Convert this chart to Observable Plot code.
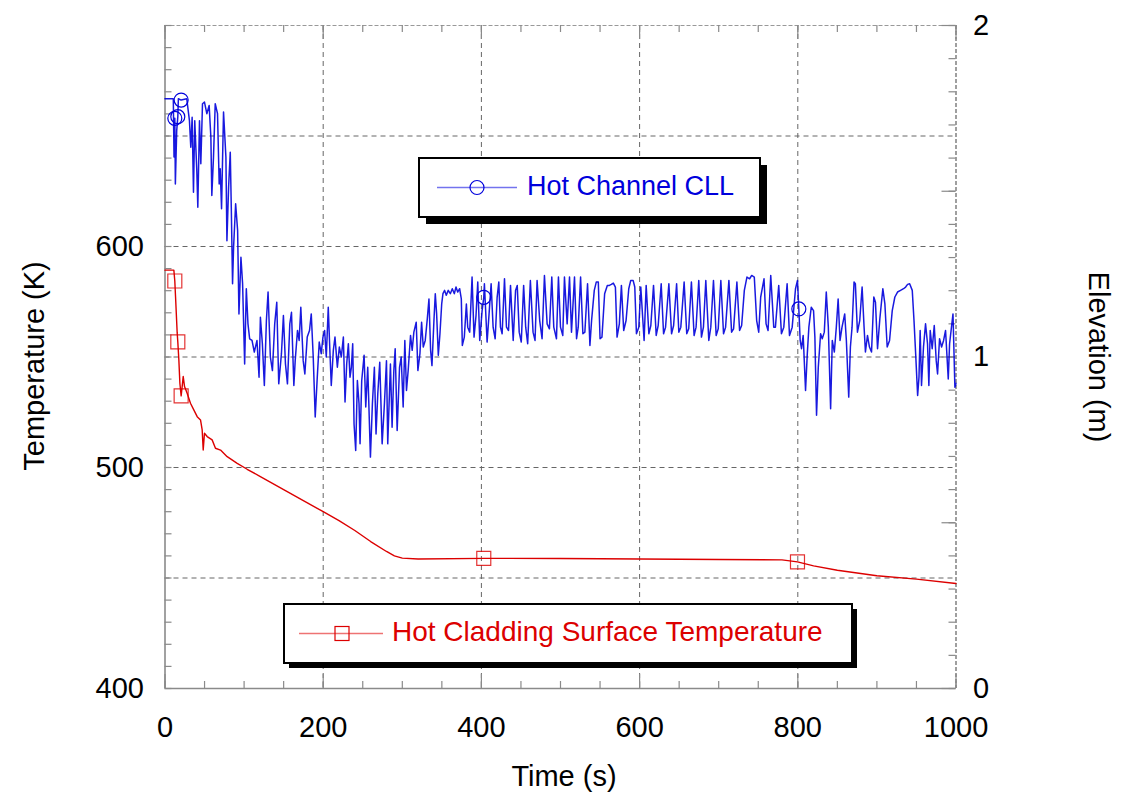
<!DOCTYPE html>
<html><head><meta charset="utf-8">
<script src="https://cdn.jsdelivr.net/npm/d3@7"></script>
<script src="https://cdn.jsdelivr.net/npm/@observablehq/plot@0.6"></script>
<style>html,body{margin:0;padding:0;background:#fff;} svg{display:block}</style>
</head><body><div id="chart"></div>
<script>
// Hot Channel CLL (collapsed liquid level), elevation in m, right axis
const cllTime = [0,10.5,11.4,12.4,13.1,14.8,16.2,16.9,20.4,27.5,30.9,32.6,34.3,36.0,37.6,40.2,41.5,43.6,45.3,47.4,49.9,52.9,55.8,58.0,59.2,61.3,63.5,66.4,68.5,69.8,71.5,74.0,77.0,78.3,80.4,82.5,83.8,85.4,86.7,89.3,91.8,93.5,96.0,98.1,100.7,102.8,104.9,107.0,110.0,112.9,116.3,118.9,120.6,123.1,125.6,128.2,130.3,133.2,135.8,138.7,141.3,143.8,147.2,149.7,152.3,154.8,157.8,159.9,162.9,164.6,167.5,169.6,171.7,174.7,176.8,179.8,182.7,184.9,187.4,189.9,192.5,195.0,197.5,199.7,201.8,203.9,206.4,208.1,210.2,212.8,214.9,217.9,220.4,222.9,225.5,227.6,229.7,231.8,233.9,235.6,237.3,239.0,241.1,243.2,245.3,246.6,248.7,251.7,253.8,256.3,259.7,262.2,264.7,266.8,269.0,271.5,274.5,277.4,280.0,281.6,285.0,287.1,289.3,291.0,293.5,296.5,298.6,301.1,303.2,305.3,307.4,310.4,312.5,314.6,317.6,319.7,322.3,324.4,326.5,329.0,331.6,333.7,335.8,337.5,340.0,341.7,343.4,345.5,347.6,349.8,351.4,353.5,355.6,358.1,360.7,363.2,365.8,367.9,370.0,372.5,374.6,375.9,378.4,381.0,382.7,385.2,388.2,390.7,393.2,395.4,397.9,400.9,403,403.8,407.2,409.7,412.3,414.8,417.4,419.9,422.0,424.1,426.2,429.2,431.7,434.3,436.8,440.2,443.2,445.3,447.8,450.4,453.4,456.0,458.5,461.9,465.3,467.8,470.4,473.7,476.7,479.7,483.1,486.0,489.0,491.5,494.9,497.4,500.0,502.9,505.0,508.4,511.4,513.9,517.7,520.3,522.4,525.4,528.3,530.8,534.2,537.2,539.3,542.7,545.2,547.8,550.0,552.4,555.8,559.2,561.8,564.3,566.8,569.4,571.5,574.4,577.0,579.9,582.9,586.3,588.8,591.8,593.9,596.0,599.0,601.5,605.7,608.3,611.7,614.2,617.6,621.0,623.5,627.3,630.3,632.8,637.0,640.4,643.0,646.8,649.6,652.1,656.3,659.6,662.1,665.5,668.9,671.4,674.8,678.2,680.7,683.7,687.5,690.0,693.4,696.8,699.4,702.7,706.1,708.7,712.9,716.3,718.8,723.0,726.4,729.0,732.4,735.7,739.1,741.7,745.0,748.0,750.6,753.1,757.3,759.9,762.4,765.8,769.6,771.7,775.9,779.3,782.3,786.5,789.5,792.9,797.1,799.6,801.3,803.0,804.7,806.8,809.8,811.9,814.0,817.0,819.9,821.6,823.7,825.9,828.8,830.9,833.5,836.0,838.6,841.5,843.6,846.2,848.7,851.0,853.4,855.9,859.3,861.4,864.4,866.5,868.6,871.1,872.8,875.4,878.3,881.3,883.8,885.5,888.1,890.6,893.2,896.1,898.2,900.8,903.7,907.5,910.1,913.0,916.0,919.4,922.7,926.1,929.9,933.7,936.3,938.8,941.4,944.7,946.9,949.0,951.5,953.2,954.7,956.4,958.9,961.5,964.0,965.7,967.4,969.9,972.5,975.0,976.7,979.2,981.8,984.3,986.8,990.2,991.9,994.5,996.2,998.6,1000];
const cllElev = [1.779,1.779,1.603,1.72,1.522,1.683,1.725,1.779,1.775,1.779,1.713,1.633,1.723,1.497,1.713,1.563,1.452,1.713,1.583,1.764,1.769,1.734,1.759,1.663,1.487,1.603,1.764,1.734,1.522,1.568,1.447,1.739,1.603,1.351,1.512,1.618,1.452,1.221,1.331,1.462,1.382,1.130,1.301,1.221,0.979,1.206,1.100,1.055,1.050,1.015,1.050,0.939,1.120,1.040,0.914,1.110,1.196,1.000,0.959,1.100,1.165,0.919,1.010,1.125,0.979,0.919,1.100,1.135,0.914,0.989,1.080,1.050,1.150,0.989,0.949,1.060,1.080,1.130,1.000,0.819,0.939,1.045,1.010,1.060,1.080,1.000,1.150,1.040,0.914,1.020,1.060,0.969,1.030,1.000,1.060,0.864,0.979,1.040,0.939,0.969,1.040,0.798,0.718,0.929,0.859,0.738,0.929,1.005,0.849,0.969,0.698,0.859,0.969,0.768,0.889,0.984,0.738,0.859,0.989,0.738,0.979,0.788,0.959,1.025,0.778,0.969,1.000,0.849,1.050,0.899,0.959,1.065,1.020,1.075,1.105,0.959,1.010,1.105,1.030,1.050,1.115,1.175,1.020,0.974,1.110,1.191,1.130,1.005,1.070,1.160,1.191,1.201,1.186,1.201,1.191,1.206,1.191,1.211,1.196,1.206,1.175,1.035,1.060,1.160,1.090,1.075,1.241,1.060,1.125,1.226,1.050,1.140,1.180,1.221,1.045,1.130,1.221,1.090,1.055,1.180,1.226,1.090,1.070,1.236,1.090,1.080,1.216,1.050,1.201,1.216,1.075,1.045,1.216,1.090,1.040,1.231,1.075,1.050,1.231,1.110,1.055,1.246,1.100,1.085,1.241,1.090,1.055,1.241,1.090,1.065,1.241,1.100,1.241,1.075,1.241,1.055,1.090,1.241,1.070,1.075,1.221,1.035,1.110,1.201,1.226,1.226,1.055,1.060,1.191,1.216,1.216,1.219,1.223,1.211,1.060,1.100,1.216,1.080,1.110,1.206,1.231,1.231,1.211,1.070,1.090,1.211,1.050,1.216,1.070,1.095,1.216,1.065,1.095,1.221,1.070,1.090,1.221,1.070,1.095,1.221,1.075,1.090,1.226,1.070,1.085,1.226,1.065,1.090,1.231,1.060,1.090,1.231,1.050,1.090,1.231,1.065,1.085,1.231,1.070,1.090,1.231,1.075,1.085,1.226,1.080,1.095,1.201,1.241,1.236,1.246,1.241,1.110,1.075,1.181,1.236,1.100,1.080,1.246,1.090,1.090,1.216,1.070,1.090,1.221,1.065,1.090,1.206,1.231,1.145,1.050,1.025,1.065,0.899,1.005,1.090,1.150,1.140,1.060,0.824,0.969,1.070,1.055,1.075,1.196,1.090,0.844,1.050,1.015,1.090,1.175,1.050,1.090,1.130,1.050,0.879,1.030,1.090,1.226,1.221,1.075,1.110,1.211,1.090,1.015,1.065,1.030,1.015,1.181,1.165,1.025,1.115,1.206,1.160,1.030,1.050,1.140,1.181,1.196,1.201,1.206,1.211,1.219,1.221,1.201,1.110,1.010,0.884,0.939,1.080,0.914,1.030,1.100,1.040,0.914,1.080,1.025,1.095,0.989,0.949,1.055,1.030,1.050,1.080,0.934,1.040,1.095,1.130,0.909,0.92];
// Hot cladding surface temperature, K, left axis
const cladTime = [0,11.2,12.4,13.3,15.4,16.2,17.5,18.8,20.4,21.7,23.0,24.7,28.0,32.2,36.4,40.7,44.9,47.0,48.3,49.9,53.3,59.6,63.8,70.2,78.6,91.3,103.9,120,150,180,200,220,240,260,280,290,300,320,403,500,600,700,780,799.6,820,850,900,950,1000];
const cladTemp = [589.3,589.3,584.4,577.5,560.9,556.8,548.8,538.2,532.4,536.6,541.2,536.6,533.6,529.1,526.1,523.0,521.5,517.0,507.9,515.5,514.0,512.5,508.7,507.9,504.9,501.9,499.2,496,490,484,480,476,471.5,466.5,462,460,459,458.6,458.9,458.8,458.6,458.4,458.2,457.3,455.5,453.5,451,449.5,447.5];
const cllMarkerTimes = [12.4, 16.2, 20.4, 403, 801.3];
const cladMarkerTimes = [12.4, 16.2, 20.4, 403, 799.6];

const timeTickLabels = [0, 200, 400, 600, 800, 1000];
const timeMinorTicks = [0,50,100,150,200,250,300,350,400,450,500,550,600,650,700,750,800,850,900,950,1000];
const tempTickLabels = [400, 500, 600];
const tempMinorTicks = d3.range(400, 700.1, 10);
const elevTickLabels = [0, 1, 2];
const elevMinorTicks = d3.range(0, 2.001, 0.1);
const elevMajorTicks = [0, 0.5, 1, 1.5, 2];
const gridTimes = [200, 400, 600, 800];
const gridTemps = [450, 500, 550, 600, 650];

const seriesNames = ["Hot Channel CLL", "Hot Cladding Surface Temperature"];
const axisTitles = {x: "Time (s)", yLeft: "Temperature (K)", yRight: "Elevation (m)"};

const BLUE = "#0000dc", RED = "#dc0000";
const W = 1122, H = 803;
const mL = 164.5, mR = 166.5, mT = 25, mB = 115;
const pw = W - mL - mR, ph = H - mT - mB;
const elevToTemp = e => 400 + 150 * e;   // right axis [0,2] m ↔ left axis [400,700] K
const FS = 29;

const cll = cllTime.map((t, i) => ({t, T: elevToTemp(cllElev[i])}));
const clad = cladTime.map((t, i) => ({t, T: cladTemp[i]}));
const cllMarks = cll.filter(d => cllMarkerTimes.includes(d.t));
const cladMarks = clad.filter(d => cladMarkerTimes.includes(d.t));

const gray = "#8a8a8a";
const chart = Plot.plot({
  width: W, height: H,
  marginLeft: mL, marginRight: mR, marginTop: mT, marginBottom: mB,
  style: {fontFamily: "'Liberation Sans', Arial, Helvetica, sans-serif", fontSize: FS + "px", background: "#fff", color: "#000"},
  x: {domain: [0, 1000]},
  y: {domain: [400, 700]},
  marks: [
    Plot.ruleX(gridTimes, {x: d => d, stroke: "#666", strokeWidth: 1, strokeDasharray: "5,4"}),
    Plot.ruleY(gridTemps, {y: d => d, stroke: "#666", strokeWidth: 1, strokeDasharray: "5,4"}),
    Plot.ruleY([700], {y: d => d, stroke: "#999", strokeWidth: 1.2, strokeDasharray: "4,2"}),
    Plot.ruleX([1000], {x: d => d, stroke: "#888", strokeWidth: 1.6, strokeDasharray: "4,2"}),
    Plot.ruleX([0], {x: d => d, stroke: gray, strokeWidth: 1.6}),
    Plot.ruleY([400], {y: d => d, stroke: gray, strokeWidth: 1.6}),
    // inward ticks
    Plot.tickX(timeMinorTicks, {x: d => d, insetTop: ph - 7, stroke: gray, strokeWidth: 1.2}),
    Plot.tickX(timeTickLabels, {x: d => d, insetTop: ph - 14, stroke: gray, strokeWidth: 1.2}),
    Plot.tickX(timeMinorTicks, {x: d => d, insetBottom: ph - 7, stroke: gray, strokeWidth: 1.2}),
    Plot.tickX(timeTickLabels, {x: d => d, insetBottom: ph - 14, stroke: gray, strokeWidth: 1.2}),
    Plot.tickY(tempMinorTicks, {y: d => d, insetRight: pw - 7, stroke: gray, strokeWidth: 1.2}),
    Plot.tickY(elevMinorTicks.map(elevToTemp), {y: d => d, insetLeft: pw - 7, stroke: gray, strokeWidth: 1.2}),
    Plot.tickY(elevMajorTicks.map(elevToTemp), {y: d => d, insetLeft: pw - 14, stroke: gray, strokeWidth: 1.2}),
    // tick labels
    Plot.axisX({ticks: timeTickLabels, tickFormat: d => String(d), tickSize: 0, tickPadding: 28, label: null, fontSize: FS}),
    Plot.axisY({ticks: tempTickLabels, tickFormat: d => String(d), tickSize: 0, tickPadding: 21, label: null, anchor: "left", fontSize: FS}),
    Plot.axisY({ticks: elevTickLabels.map(elevToTemp), tickFormat: v => String(Math.round((v - 400) / 150)), tickSize: 0, tickPadding: 17, label: null, anchor: "right", fontSize: FS}),
    // series
    Plot.line(clad, {x: "t", y: "T", stroke: RED, strokeWidth: 1.4}),
    Plot.line(cll, {x: "t", y: "T", stroke: BLUE, strokeWidth: 1.5, strokeOpacity: 0.9}),
    Plot.dot(cladMarks, {x: "t", y: "T", symbol: "square", r: 7.9, stroke: RED, strokeWidth: 1.2, fill: "none", strokeOpacity: 0.8}),
    Plot.dot(cllMarks, {x: "t", y: "T", symbol: "circle", r: 7, stroke: BLUE, strokeWidth: 1.2, fill: "none"})
  ]
});
document.getElementById("chart").appendChild(chart);

// axis titles and legends
const svg = d3.select(chart);
const ff = "'Liberation Sans', Arial, Helvetica, sans-serif";
svg.append("text").text(axisTitles.x).attr("x", mL + pw / 2 + 4).attr("y", 778)
  .attr("text-anchor", "middle").attr("dominant-baseline", "middle").attr("font-family", ff).attr("font-size", FS).attr("fill", "#000");
svg.append("text").text(axisTitles.yLeft).attr("transform", "translate(36,366) rotate(-90)")
  .attr("text-anchor", "middle").attr("dominant-baseline", "middle").attr("font-family", ff).attr("font-size", FS).attr("fill", "#000");
svg.append("text").text(axisTitles.yRight).attr("transform", "translate(1097,357) rotate(90)")
  .attr("text-anchor", "middle").attr("dominant-baseline", "middle").attr("font-family", ff).attr("font-size", FS).attr("fill", "#000");

function legend(x0, y0, w, h, sh, name, color, light, symbol, lineX1, lineX2, symX, textX, fs) {
  const g = svg.append("g");
  g.append("rect").attr("x", x0 + sh).attr("y", y0 + sh).attr("width", w).attr("height", h).attr("fill", "#000");
  g.append("rect").attr("x", x0).attr("y", y0).attr("width", w).attr("height", h).attr("fill", "#fff").attr("stroke", "#000").attr("stroke-width", 2);
  const cy = y0 + h / 2;
  g.append("line").attr("x1", lineX1).attr("x2", lineX2).attr("y1", cy).attr("y2", cy).attr("stroke", light).attr("stroke-width", 1.5);
  if (symbol === "circle") {
    g.append("circle").attr("cx", symX).attr("cy", cy).attr("r", 7).attr("fill", "none").attr("stroke", color).attr("stroke-width", 1.2);
  } else {
    g.append("rect").attr("x", symX - 7).attr("y", cy - 7).attr("width", 14).attr("height", 14).attr("fill", "none").attr("stroke", color).attr("stroke-width", 1.2);
  }
  g.append("text").text(name).attr("x", textX).attr("y", cy).attr("text-anchor", "start").attr("dominant-baseline", "middle")
    .attr("font-family", ff).attr("font-size", fs).attr("fill", color);
}
legend(419, 158, 341, 59, 7, seriesNames[0], BLUE, "#7373ee", "circle", 437, 517, 477, 527, 27);
legend(284, 604, 568, 59, 5, seriesNames[1], RED, "#ee7373", "square", 299, 383, 342, 392, 28);
</script>
</body></html>
